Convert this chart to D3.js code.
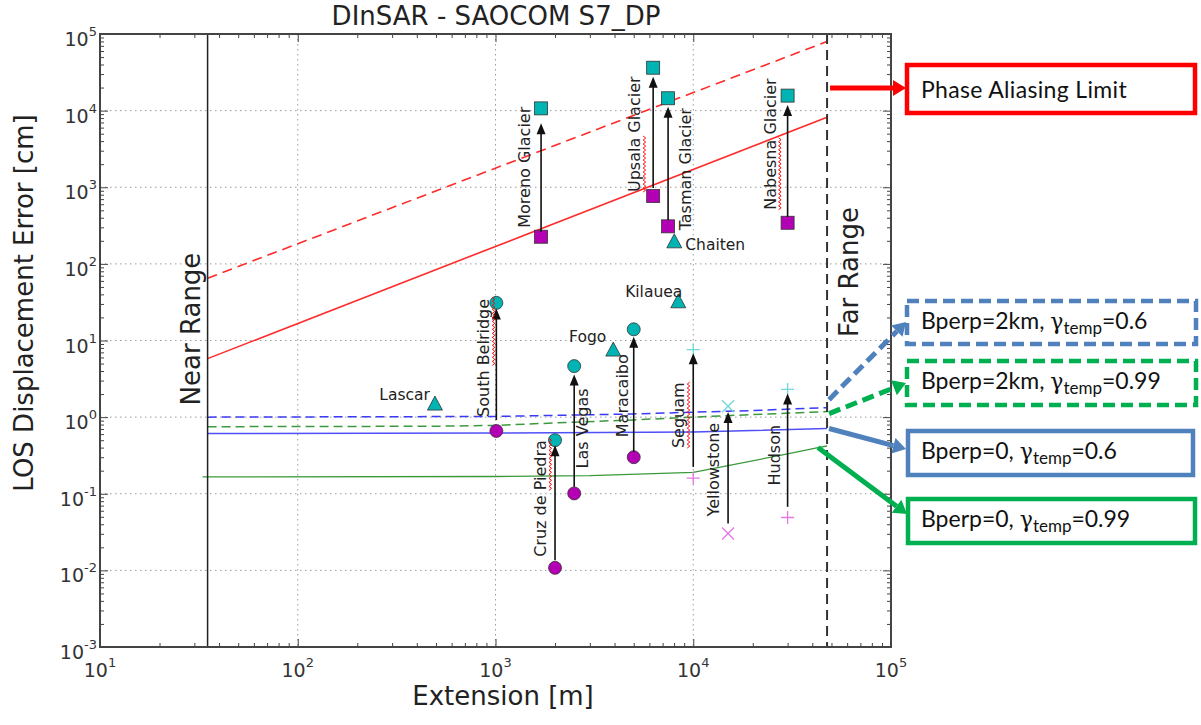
<!DOCTYPE html>
<html>
<head>
<meta charset="utf-8">
<script src="https://cdn.jsdelivr.net/npm/d3@7"></script>
<style>
  body { margin: 0; background: #fff; }
  svg { display: block; font-family: "DejaVu Sans", sans-serif; }
</style>
</head>
<body>
<svg id="chart" width="1201" height="725"></svg>
<script>
// Phase aliasing limit (red), dashed and solid
const phaseExt = [35, 47500];
const phaseLimitDashed = [65, 80000];
const phaseLimitSolid = [5.8, 8200];

// Error curves
const bp2kmG06Ext = [35, 1000, 5000, 10000, 20000, 47500];
const bp2kmG06 = [1.0, 1.02, 1.1, 1.16, 1.22, 1.33];
const bp2kmG099Ext = [35, 500, 1000, 2000, 5000, 10000, 20000, 47500];
const bp2kmG099 = [0.75, 0.76, 0.78, 0.84, 0.92, 1.0, 1.08, 1.18];
const bp0G06Ext = [35, 1000, 10000, 20000, 47500];
const bp0G06 = [0.61, 0.62, 0.64, 0.67, 0.71];
const bp0G099Ext = [33, 1000, 3000, 10000, 15000, 30000, 42700, 47500];
const bp0G099 = [0.166, 0.168, 0.172, 0.19, 0.233, 0.331, 0.40, 0.42];

const nearRange = 35;
const farRange = 47500;

// Test sites: before (magenta) and after (cyan)
const sites = ["Moreno Glacier", "Upsala Glacier", "Tasman Glacier", "Nabesna Glacier",
  "South Belridge", "Cruz de Piedra", "Las Vegas", "Maracaibo", "Seguam", "Yellowstone", "Hudson"];
const siteExtent = [1700, 6270, 7460, 30000, 1010, 2000, 2500, 5000, 10000, 15000, 30000];
const siteMarker = ["square", "square", "square", "square", "circle", "circle", "circle", "circle", "plus", "cross", "plus"];
const errBefore = [226, 767, 309, 344, 0.66, 0.0108, 0.101, 0.30, 0.16, 0.0303, 0.049];
const errAfter = [10700, 36300, 14500, 15700, 31, 0.5, 4.63, 14, 7.6, 1.39, 2.3];
const arrowFrom = [262, 977, 373, 412, 0.914, 0.0136, 0.123, 0.352, 0.224, 0.041, 0.0675];
const arrowTo = [6820, 27700, 11200, 11800, 26.2, 0.43, 3.6, 11.2, 6.8, 1.17, 2.04];
const misspelt = ["", "Upsala", "", "Nabesna", "Belridge", "Piedra", "", "", "Seguam", "", ""];

// Volcanoes (triangles)
const volcanoes = ["Chaiten", "Kilauea", "Fogo", "Lascar"];
const volcanoExtent = [8020, 8400, 3940, 494];
const volcanoErr = [194, 32, 7.5, 1.48];

const xMajor = [10, 100, 1000, 10000, 100000];
const yMajor = [1e-3, 1e-2, 1e-1, 1, 10, 100, 1000, 10000, 100000];

// layout
const L = 100, R = 891, T = 34, B = 647;
const labelDx = [-11, -13, 23, -12, -7, -9, 14, -6, -9, -9, -8];
const labelDy = [-9, -4, 4, -13, -14, -11, -25, -20, -30, -17, -32];
const volcanoLabel = [
  { dx: 11, dy: 8, anchor: "start" },
  { dx: 4, dy: -5, anchor: "end" },
  { dx: -7, dy: -8, anchor: "end" },
  { dx: -5, dy: -4, anchor: "end" }
];

const svg = d3.select("#chart");
const x = d3.scaleLog().domain([10, 1e5]).range([L, R]);
const y = d3.scaleLog().domain([1e-3, 1e5]).range([B, T]);

const cyan = "#00b4b4", magenta = "#b400b4";
const paleCyan = "#70d8d8", paleMagenta = "#e27ae2";

// grid
const grid = svg.append("g").attr("stroke", "#9a9a9a").attr("stroke-width", 1).attr("stroke-dasharray", "1.5,3.5");
grid.selectAll("line.gx").data(xMajor.slice(1, -1)).join("line")
  .attr("x1", d => x(d)).attr("x2", d => x(d)).attr("y1", T).attr("y2", B);
grid.selectAll("line.gy").data(yMajor.slice(1, -1)).join("line").attr("class", "gy")
  .attr("x1", L).attr("x2", R).attr("y1", d => y(d)).attr("y2", d => y(d));

// curves
const line = d3.line().x(d => x(d[0])).y(d => y(d[1]));
const curves = [
  { ext: phaseExt, val: phaseLimitDashed, color: "#ff2a2a", dash: "10,6", w: 1.6 },
  { ext: phaseExt, val: phaseLimitSolid, color: "#ff2a2a", dash: null, w: 1.6 },
  { ext: bp2kmG06Ext, val: bp2kmG06, color: "#3b3bf5", dash: "9,5", w: 1.5 },
  { ext: bp2kmG099Ext, val: bp2kmG099, color: "#3c9a3c", dash: "9,5", w: 1.5 },
  { ext: bp0G06Ext, val: bp0G06, color: "#5050f8", dash: null, w: 1.5 },
  { ext: bp0G099Ext, val: bp0G099, color: "#3a9a3a", dash: null, w: 1.3 }
];
curves.forEach(c => {
  svg.append("path")
    .datum(c.ext.map((e, i) => [e, c.val[i]]))
    .attr("d", line)
    .attr("fill", "none")
    .attr("stroke", c.color)
    .attr("stroke-width", c.w)
    .attr("stroke-dasharray", c.dash);
});

// near / far range
svg.append("line").attr("x1", x(nearRange)).attr("x2", x(nearRange)).attr("y1", T).attr("y2", B)
  .attr("stroke", "#222").attr("stroke-width", 1.5);
svg.append("line").attr("x1", x(farRange)).attr("x2", x(farRange)).attr("y1", T).attr("y2", B)
  .attr("stroke", "#333").attr("stroke-width", 2).attr("stroke-dasharray", "10,6");

svg.append("text").attr("transform", `translate(${x(nearRange) - 8},329) rotate(-90)`)
  .attr("text-anchor", "middle").attr("font-size", 26).attr("fill", "#222").text("Near Range");
svg.append("text").attr("transform", `translate(${x(farRange) + 31},272) rotate(-90)`)
  .attr("text-anchor", "middle").attr("font-size", 26).attr("fill", "#222").text("Far Range");

// marker helper
function marker(g, shape, cx, cy, fill) {
  if (shape === "square") {
    g.append("rect").attr("x", cx - 6.5).attr("y", cy - 6.5).attr("width", 13).attr("height", 13)
      .attr("fill", fill).attr("stroke", "#333").attr("stroke-width", 0.8);
  } else if (shape === "circle") {
    g.append("circle").attr("cx", cx).attr("cy", cy).attr("r", 6.5)
      .attr("fill", fill).attr("stroke", "#333").attr("stroke-width", 0.8);
  } else if (shape === "triangle") {
    g.append("path").attr("d", `M${cx},${cy - 8}L${cx + 7.5},${cy + 6}L${cx - 7.5},${cy + 6}Z`)
      .attr("fill", fill).attr("stroke", "#333").attr("stroke-width", 0.8);
  } else if (shape === "plus") {
    g.append("path").attr("d", `M${cx - 6.5},${cy}H${cx + 6.5}M${cx},${cy - 6.5}V${cy + 6.5}`)
      .attr("stroke", fill).attr("stroke-width", 1.3);
  } else if (shape === "cross") {
    g.append("path").attr("d", `M${cx - 6},${cy - 6}L${cx + 6},${cy + 6}M${cx - 6},${cy + 6}L${cx + 6},${cy - 6}`)
      .attr("stroke", fill).attr("stroke-width", 1.3);
  }
}

const marks = svg.append("g");
sites.forEach((s, i) => {
  const pale = siteMarker[i] === "plus" || siteMarker[i] === "cross";
  const cx = x(siteExtent[i]);
  marker(marks, siteMarker[i], cx, y(errBefore[i]), pale ? paleMagenta : magenta);
  marker(marks, siteMarker[i], cx, y(errAfter[i]), pale ? paleCyan : cyan);
});
volcanoes.forEach((v, i) => {
  marker(marks, "triangle", x(volcanoExtent[i]), y(volcanoErr[i]), cyan);
});

// arrows
const arrows = svg.append("g");
sites.forEach((s, i) => {
  const cx = x(siteExtent[i]);
  const y1 = y(arrowFrom[i]), y2 = y(arrowTo[i]);
  arrows.append("line").attr("x1", cx).attr("x2", cx).attr("y1", y1).attr("y2", y2 + 9)
    .attr("stroke", "#111").attr("stroke-width", 1.6);
  arrows.append("path").attr("d", `M${cx},${y2}L${cx + 4.5},${y2 + 11}L${cx - 4.5},${y2 + 11}Z`)
    .attr("fill", "#111");
});

// site labels, rotated
const labels = svg.append("g").attr("font-size", 16).attr("fill", "#222");
sites.forEach((s, i) => {
  const bx = x(siteExtent[i]) + labelDx[i];
  const by = y(errBefore[i]) + labelDy[i];
  const g = labels.append("g").attr("transform", `translate(${bx},${by}) rotate(-90)`);
  const t = g.append("text").attr("x", 0).attr("y", 0).text(s);
  if (misspelt[i]) {
    const idx = s.indexOf(misspelt[i]);
    const node = t.node();
    const x0 = idx > 0 ? node.getSubStringLength(0, idx) : 0;
    const len = node.getSubStringLength(idx, misspelt[i].length);
    let d = `M${x0},3`;
    for (let k = 0, p = x0; p < x0 + len; k++) {
      p += 2;
      d += `L${p},${k % 2 === 0 ? 5.5 : 3}`;
    }
    g.append("path").attr("d", d).attr("fill", "none").attr("stroke", "#ff0000").attr("stroke-width", 1);
  }
});
volcanoes.forEach((v, i) => {
  labels.append("text")
    .attr("x", x(volcanoExtent[i]) + volcanoLabel[i].dx)
    .attr("y", y(volcanoErr[i]) + volcanoLabel[i].dy)
    .attr("text-anchor", volcanoLabel[i].anchor)
    .attr("font-size", 15.5)
    .text(v);
});

// frame and ticks
const tickColor = "#444";
const minorX = x.ticks().filter(d => !xMajor.includes(d));
const minorY = y.ticks().filter(d => !yMajor.some(m => Math.abs(m - d) / m < 1e-6));
function axisPair(axisFn, scale, major, minor, transform) {
  const gMaj = svg.append("g").attr("transform", transform)
    .call(axisFn(scale).tickValues(major).tickSize(-8).tickFormat(""));
  const gMin = svg.append("g").attr("transform", transform)
    .call(axisFn(scale).tickValues(minor).tickSize(-4).tickFormat(""));
  [gMaj, gMin].forEach(g => {
    g.select(".domain").remove();
    g.selectAll("line").attr("stroke", tickColor).attr("stroke-width", 1);
  });
}
axisPair(d3.axisBottom, x, xMajor, minorX, `translate(0,${B})`);
axisPair(d3.axisTop, x, xMajor, minorX, `translate(0,${T})`);
axisPair(d3.axisLeft, y, yMajor, minorY, `translate(${L},0)`);
axisPair(d3.axisRight, y, yMajor, minorY, `translate(${R},0)`);

svg.append("rect").attr("x", L).attr("y", T).attr("width", R - L).attr("height", B - T)
  .attr("fill", "none").attr("stroke", "#444").attr("stroke-width", 2);

// tick labels
const tl = svg.append("g").attr("fill", "#333");
xMajor.forEach(v => {
  const t = tl.append("text").attr("x", x(v)).attr("y", B + 30).attr("text-anchor", "middle").attr("font-size", 19);
  t.append("tspan").text("10");
  t.append("tspan").attr("dy", -10).attr("font-size", 13).text(Math.round(Math.log10(v)));
});
yMajor.forEach(v => {
  const t = tl.append("text").attr("x", 97).attr("y", y(v) + 12).attr("text-anchor", "end").attr("font-size", 19);
  t.append("tspan").text("10");
  t.append("tspan").attr("dy", -10).attr("font-size", 13).text(Math.round(Math.log10(v)));
});

// axis titles
svg.append("text").attr("x", 496).attr("y", 25).attr("text-anchor", "middle")
  .attr("font-size", 26).attr("fill", "#222").text("DInSAR - SAOCOM S7_DP");
svg.append("text").attr("x", 503).attr("y", 705).attr("text-anchor", "middle")
  .attr("font-size", 26).attr("fill", "#222").text("Extension [m]");
svg.append("text").attr("transform", "translate(33,303) rotate(-90)").attr("text-anchor", "middle")
  .attr("font-size", 26).attr("fill", "#222").text("LOS Displacement Error [cm]");

// call-out boxes on the right
const red = "#ff0000", blue = "#4f81bd", green = "#00b050";
function callArrow(x1, y1, x2, y2, color, dash) {
  const a = Math.atan2(y2 - y1, x2 - x1);
  const hl = 13, hw = 8;
  const bx = x2 - hl * Math.cos(a), by = y2 - hl * Math.sin(a);
  svg.append("line").attr("x1", x1).attr("y1", y1).attr("x2", bx).attr("y2", by)
    .attr("stroke", color).attr("stroke-width", 5).attr("stroke-dasharray", dash);
  svg.append("path")
    .attr("d", `M${x2},${y2}L${bx + hw * Math.sin(a)},${by - hw * Math.cos(a)}L${bx - hw * Math.sin(a)},${by + hw * Math.cos(a)}Z`)
    .attr("fill", color);
}
const fx = x(farRange);
callArrow(fx + 3, y(19700), 906, y(19700), red, null);
callArrow(fx + 2, y(bp2kmG06[bp2kmG06.length - 1]) - 8, 906, 322, blue, "12,6");
callArrow(fx + 2, y(bp2kmG099[bp2kmG099.length - 1]) + 2, 906, 383, green, "12,6");
callArrow(fx + 2, y(bp0G06[bp0G06.length - 1]), 906, 449, blue, null);
callArrow(x(42700), y(0.40), 907, 514, green, null);

const boxes = [
  { x: 907, y: 65, w: 288, h: 48, color: red, dash: null, text: "Phase Aliasing Limit", base: 98, width: 206 },
  { x: 907, y: 301, w: 289, h: 43, color: blue, dash: "12,6", pre: "Bperp=2km, ", post: "=0.6", base: 329, width: 224 },
  { x: 907, y: 361, w: 289, h: 44, color: green, dash: "12,6", pre: "Bperp=2km, ", post: "=0.99", base: 389, width: 234 },
  { x: 908, y: 431, w: 285, h: 44, color: blue, dash: null, pre: "Bperp=0, ", post: "=0.6", base: 459, width: 192 },
  { x: 908, y: 499, w: 287, h: 44, color: green, dash: null, pre: "Bperp=0, ", post: "=0.99", base: 527, width: 204 }
];
boxes.forEach(b => {
  svg.append("rect").attr("x", b.x).attr("y", b.y).attr("width", b.w).attr("height", b.h)
    .attr("fill", "#fff").attr("stroke", b.color).attr("stroke-width", 4.5).attr("stroke-dasharray", b.dash);
  const t = svg.append("text").attr("x", 921).attr("y", b.base)
    .attr("font-family", "Lato, 'Noto Sans', sans-serif").attr("font-size", 23).attr("fill", "#111");
  if (b.text) {
    t.text(b.text);
  } else {
    t.append("tspan").text(b.pre);
    t.append("tspan").attr("font-family", "'DejaVu Serif', serif").attr("font-size", 22).text("γ");
    t.append("tspan").attr("font-size", 17).attr("dy", 5).text("temp");
    t.append("tspan").attr("dy", -5).text(b.post);
  }
  // stretch spacing so the text spans the same width as in the figure
  const n = t.text().length;
  const w = t.node().getComputedTextLength();
  t.attr("letter-spacing", Math.max(0, (b.width - w) / n));
});
</script>
</body>
</html>
